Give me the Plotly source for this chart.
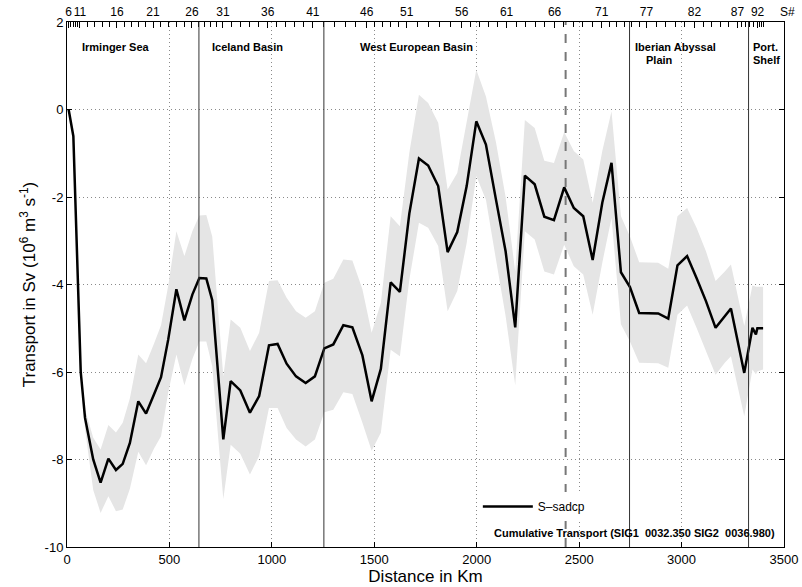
import numpy as np
import plotly.graph_objects as go

# ---- data ----
distance_km = [8, 31, 67, 88, 128, 164, 202, 239, 272, 307, 348, 386, 425, 459, 494,
               534, 573, 612, 646, 680, 709, 763, 799, 846, 893, 938, 986, 1028, 1072, 1118,
               1165, 1210, 1256, 1300, 1349, 1393, 1442, 1487, 1532, 1580, 1625, 1671, 1718, 1763, 1812,
               1858, 1905, 1951, 1998, 2045, 2094, 2141, 2188, 2235, 2283, 2330, 2377, 2427, 2474, 2520,
               2566, 2613, 2658, 2704, 2748, 2793, 2886, 2935, 2980, 3027, 3073, 3119, 3166, 3211, 3241,
               3306, 3346, 3363, 3370, 3398]
transport = [0.0, -0.61, -6.0, -7.05, -8.0, -8.53, -7.98, -8.24, -8.1, -7.62, -6.67, -6.95, -6.51, -6.12, -5.26,
             -4.11, -4.82, -4.23, -3.85, -3.86, -4.36, -7.54, -6.21, -6.42, -6.93, -6.55, -5.39, -5.36, -5.81, -6.10,
             -6.25, -6.10, -5.46, -5.37, -4.93, -4.98, -5.62, -6.67, -5.93, -3.95, -4.17, -2.38, -1.12, -1.28, -1.75,
             -3.26, -2.80, -1.75, -0.27, -0.80, -2.06, -3.24, -4.98, -1.51, -1.71, -2.45, -2.53, -1.78, -2.25, -2.44,
             -3.44, -2.13, -1.22, -3.72, -4.06, -4.65, -4.66, -4.78, -3.56, -3.35, -3.85, -4.38, -4.99, -4.72, -4.55,
             -6.02, -4.99, -5.14, -5.0, -5.0]
upper = [0.0, -0.55, -5.8, -6.85, -7.5, -7.77, -7.21, -7.38, -7.16, -6.6, -5.6, -5.8, -5.35, -4.93, -4.03,
         -2.78, -3.35, -2.78, -2.42, -2.41, -2.9, -6.1, -4.8, -4.99, -5.52, -5.1, -3.92, -3.9, -4.3, -4.61,
         -4.76, -4.61, -3.96, -3.87, -3.43, -3.45, -4.11, -5.1, -4.42, -2.44, -2.67, -0.99, 0.34, 0.15, -0.3,
         -1.83, -1.45, -0.3, 0.91, 0.3, -0.75, -2.0, -3.7, -0.24, -0.42, -1.17, -1.22, -0.52, -0.95, -1.14,
         -2.13, -0.95, -0.04, -2.44, -2.9, -3.49, -3.5, -3.64, -2.44, -2.25, -2.7, -3.24, -3.92, -3.7, -3.54,
         -4.95, -4.02, -4.05, -4.05, -4.05]
lower = [0.0, -0.67, -6.15, -7.3, -8.7, -9.22, -8.84, -9.18, -9.14, -8.67, -7.82, -8.13, -7.75, -7.47, -6.47,
         -5.6, -6.3, -5.7, -5.3, -5.3, -5.87, -8.9, -7.66, -7.87, -8.34, -7.92, -6.82, -6.82, -7.28, -7.54,
         -7.7, -7.54, -6.92, -6.86, -6.46, -6.5, -7.16, -7.8, -7.39, -5.49, -5.64, -3.89, -2.59, -2.7, -3.12,
         -4.61, -4.15, -3.05, -1.52, -2.06, -3.43, -4.72, -6.3, -2.78, -2.97, -3.7, -3.77, -3.09, -3.58, -3.77,
         -4.69, -3.5, -2.48, -4.91, -5.3, -5.79, -5.8, -5.9, -4.69, -4.48, -4.99, -5.52, -6.06, -5.79, -5.64,
         -7.01, -5.94, -6.05, -5.98, -5.94]

station_labels = [6, 11, 16, 21, 26, 31, 36, 41, 46, 51, 56, 61, 66, 71, 77, 82, 87, 92]
station_km = [8, 63, 244, 420, 610, 761, 980, 1200, 1463, 1658, 1927, 2146, 2380, 2610, 2829, 3063, 3273, 3371]

basin_bounds_km = [644, 1254, 2746, 3327]
dashed_km = 2434
region_names = ["Irminger Sea", "Iceland Basin", "West European Basin", "Iberian Abyssal", "Plain", "Port.", "Shelf"]
region_x = [63, 698, 1420, 2761, 2815, 3337, 3337]
region_line = [0, 0, 0, 0, 1, 0, 1]

x_ticks = [0, 500, 1000, 1500, 2000, 2500, 3000, 3500]
y_ticks = [-10, -8, -6, -4, -2, 0, 2]

FONT = "Liberation Sans, Arial, Helvetica, sans-serif"
GRID_DASH = "1px,3px"

# minor station ticks between labelled stations
minor = []
for i in range(len(station_labels) - 1):
    n = station_labels[i + 1] - station_labels[i]
    minor += list(np.linspace(station_km[i], station_km[i + 1], n + 1)[1:-1])
minor += [3381, 3390, 3399]

fig = go.Figure()
fig.add_trace(go.Scatter(x=distance_km, y=upper, mode="lines", line=dict(width=0),
                         showlegend=False, hoverinfo="skip"))
fig.add_trace(go.Scatter(x=distance_km, y=lower, mode="lines", line=dict(width=0),
                         fill="tonexty", fillcolor="#e5e5e5", showlegend=False, hoverinfo="skip"))
fig.add_trace(go.Scatter(x=distance_km, y=transport, mode="lines", name="S\u2013sadcp",
                         line=dict(color="black", width=2.5)))
# top axis carrier
fig.add_trace(go.Scatter(x=[0, 3500], y=[None, None], xaxis="x2", showlegend=False, hoverinfo="skip"))

for xv in basin_bounds_km:
    fig.add_shape(type="line", x0=xv, x1=xv, y0=-10, y1=2, xref="x", yref="y",
                  line=dict(color="#333333", width=1), layer="above")
fig.add_shape(type="line", x0=dashed_km, x1=dashed_km, y0=-10, y1=2, xref="x", yref="y",
              line=dict(color="#777777", width=2, dash="dash"), layer="above")

for name, xv, ln in zip(region_names, region_x, region_line):
    fig.add_annotation(x=xv, y=1.44 - 0.30 * ln, xref="x", yref="y", text="<b>%s</b>" % name,
                       showarrow=False, xanchor="left", yanchor="middle",
                       font=dict(family=FONT, size=11, color="black"))

fig.add_annotation(x=2073, y=-9.67, xref="x", yref="y",
                   text="<b>Cumulative Transport (SIG1  0032.350 SIG2  0036.980)</b>",
                   showarrow=False, xanchor="left", yanchor="middle",
                   font=dict(family=FONT, size=11, color="black"))
fig.add_annotation(x=1.0, y=1.0, xref="paper", yref="paper", text="S#", showarrow=False,
                   xanchor="center", yanchor="bottom", xshift=3, yshift=1,
                   font=dict(family=FONT, size=12, color="black"))

fig.update_layout(
    width=802, height=587,
    margin=dict(l=67, r=18, t=22, b=40),
    plot_bgcolor="white", paper_bgcolor="white",
    font=dict(family=FONT, size=13, color="black"),
    xaxis=dict(range=[0, 3500], tickvals=x_ticks, ticktext=[str(v) for v in x_ticks],
               ticks="inside", ticklen=5, tickcolor="black", showline=True, linecolor="black",
               linewidth=1, mirror=False, showgrid=True, gridcolor="#8a8a8a", griddash=GRID_DASH,
               gridwidth=1, zeroline=False, automargin=False, tickangle=0,
               title=dict(text="Distance in Km", font=dict(size=17), standoff=2)),
    xaxis2=dict(range=[0, 3500], overlaying="x", side="top", tickvals=station_km,
                ticktext=[str(s) for s in station_labels], ticks="inside", ticklen=6,
                tickcolor="black", showline=True, linecolor="black", linewidth=1,
                showgrid=False, zeroline=False, tickfont=dict(size=12), automargin=False,
                tickangle=0,
                minor=dict(tickmode="array", tickvals=minor, ticks="inside", ticklen=5,
                           tickcolor="black", showgrid=False)),
    yaxis=dict(range=[-10, 2], tickvals=y_ticks, ticktext=[str(v) for v in y_ticks],
               ticks="inside", ticklen=5, tickcolor="black", showline=True, linecolor="black",
               linewidth=1, mirror="ticks", showgrid=True, gridcolor="#8a8a8a", griddash=GRID_DASH,
               gridwidth=1, zeroline=False, automargin=False,
               title=dict(text="Transport in Sv (10<sup>6</sup> m<sup>3</sup> s<sup>-1</sup>)",
                          font=dict(size=17), standoff=4)),
    legend=dict(x=0.573, y=0.105, xanchor="left", yanchor="top", bgcolor="white",
                borderwidth=0, font=dict(size=12), itemwidth=50),
    showlegend=True,
)

fig.write_html("out.html", config={"displayModeBar": False},
               post_script="document.body.style.margin='0';")
